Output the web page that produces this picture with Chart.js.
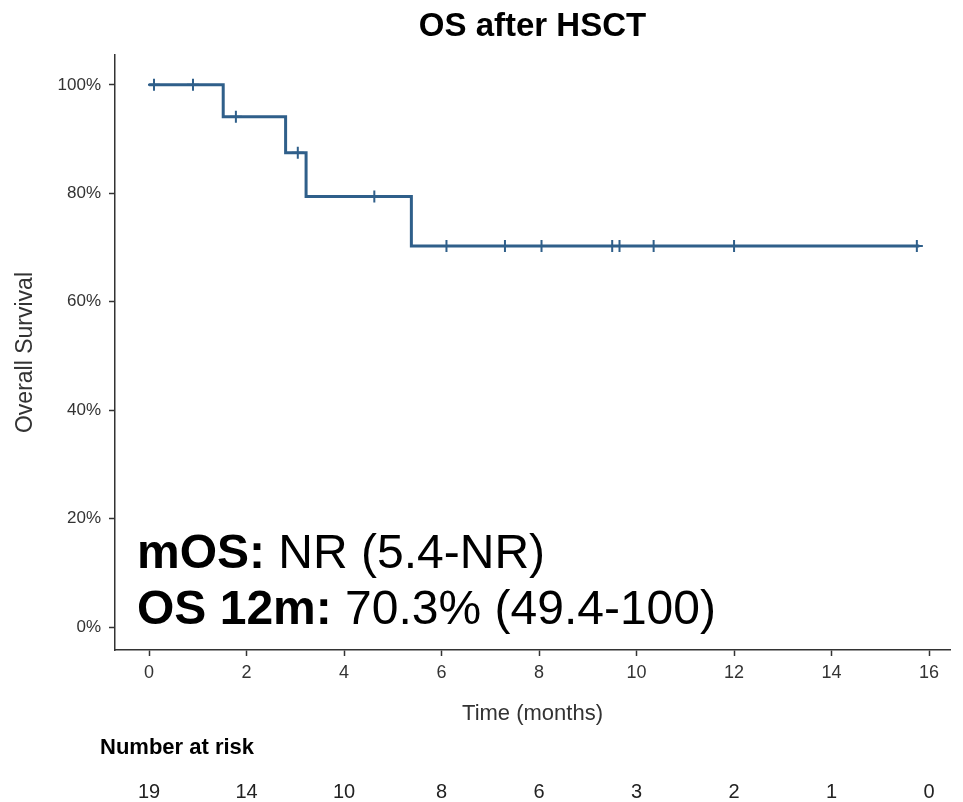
<!DOCTYPE html>
<html>
<head>
<meta charset="utf-8">
<script src="https://cdn.jsdelivr.net/npm/chart.js@4"></script>
<style>
  html, body { margin: 0; padding: 0; background: #fff; }
  #wrap { width: 963px; height: 802px; position: relative; }
</style>
</head>
<body>
<div id="wrap"><canvas id="kmChart"></canvas></div>
<script>
// survival curve (time in months, survival %)
const stepTimes = [0, 1.52, 2.8, 3.22, 5.38, 15.8];
const stepSurv = [100, 94.1, 87.5, 79.4, 70.3, 70.3];

// censored observations
const censorTimes = [0.1, 0.9, 1.78, 3.05, 4.62, 6.1, 7.3, 8.05, 9.5, 9.65, 10.35, 12.0, 15.75];
const censorSurv = [100, 100, 94.1, 87.5, 79.4, 70.3, 70.3, 70.3, 70.3, 70.3, 70.3, 70.3, 70.3];

const xTicks = [0, 2, 4, 6, 8, 10, 12, 14, 16];
const yTicks = [0, 20, 40, 60, 80, 100];
const atRisk = [19, 14, 10, 8, 6, 3, 2, 1, 0];

const lineColor = '#2f5f8a';
const font = '"Liberation Sans", Arial, sans-serif';

const extras = {
    id: 'extras',
    afterDraw(chart) {
        const ctx = chart.ctx;
        const xs = chart.scales.x;
        const area = chart.chartArea;
        ctx.save();
        // title
        ctx.fillStyle = '#000';
        ctx.font = 'bold 33px ' + font;
        ctx.textAlign = 'center';
        ctx.textBaseline = 'middle';
        ctx.fillText('OS after HSCT', (area.left + area.right) / 2, 27);

        // annotation text
        ctx.textAlign = 'left';
        ctx.textBaseline = 'alphabetic';
        const lines = [['mOS:', ' NR (5.4-NR)', 568], ['OS 12m:', ' 70.3% (49.4-100)', 624]];
        lines.forEach(([b, r, y]) => {
            ctx.font = 'bold 48px ' + font;
            ctx.fillText(b, 137, y);
            const w = ctx.measureText(b).width;
            ctx.font = '48px ' + font;
            ctx.fillText(r, 137 + w, y);
        });

        // number at risk table
        ctx.font = 'bold 22px ' + font;
        ctx.fillText('Number at risk', 100, 754);
        ctx.font = '20px ' + font;
        ctx.textAlign = 'center';
        ctx.fillStyle = '#222';
        xTicks.forEach((t, i) => {
            ctx.fillText(String(atRisk[i]), xs.getPixelForValue(t), 798);
        });
        ctx.restore();
    }
};

const ctx = document.getElementById('kmChart').getContext('2d');
new Chart(ctx, {
    type: 'scatter',
    data: {
        datasets: [{
            label: 'OS',
            data: stepTimes.map((t, i) => ({ x: t, y: stepSurv[i] })),
            showLine: true,
            stepped: true,
            borderColor: lineColor,
            borderWidth: 3,
            pointRadius: 0,
            fill: false
        }, {
            label: 'Censored',
            data: censorTimes.map((t, i) => ({ x: t, y: censorSurv[i] })),
            showLine: false,
            pointStyle: 'cross',
            pointRadius: 6,
            borderColor: lineColor,
            borderWidth: 2
        }]
    },
    options: {
        responsive: true,
        maintainAspectRatio: false,
        animation: false,
        layout: { padding: { left: 0, top: 55, right: 13, bottom: 75 } },
        plugins: {
            legend: { display: false },
            tooltip: { enabled: false }
        },
        scales: {
            x: {
                type: 'linear',
                min: -0.7,
                max: 16.43,
                afterBuildTicks: s => { s.ticks = xTicks.map(v => ({ value: v })); },
                afterFit: s => { s.height = 77; },
                grid: { display: true, drawOnChartArea: false, drawTicks: true, tickLength: 6, tickColor: '#333', tickWidth: 1.5 },
                border: { color: '#333', width: 1.5 },
                ticks: { color: '#333', font: { family: font, size: 18 }, padding: 6 },
                title: { display: true, text: 'Time (months)', color: '#333', font: { family: font, size: 22 }, padding: { top: 4, bottom: 0 } }
            },
            y: {
                min: -4.2,
                max: 105.5,
                afterBuildTicks: s => { s.ticks = yTicks.map(v => ({ value: v })); },
                afterFit: s => { s.width = 115; },
                grid: { display: true, drawOnChartArea: false, drawTicks: true, tickLength: 6, tickColor: '#333', tickWidth: 1.5 },
                border: { color: '#333', width: 1.5 },
                ticks: { color: '#333', font: { family: font, size: 17 }, padding: 8, callback: v => v + '%' },
                title: { display: true, text: 'Overall Survival', color: '#333', font: { family: font, size: 23 }, padding: { top: 12, bottom: 2 } }
            }
        }
    },
    plugins: [extras]
});
</script>
</body>
</html>
